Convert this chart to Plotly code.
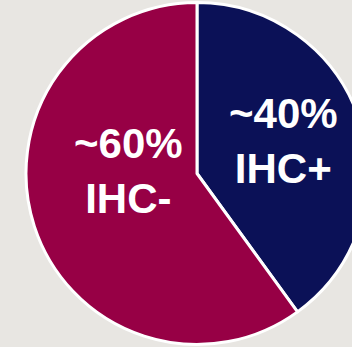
import plotly.graph_objects as go

# Share of cases by IHC status
labels = ["IHC+", "IHC-"]
shares = [40, 60]
share_text = ["~40%", "~60%"]
colors = ["#0b1157", "#970045"]

W, H = 372, 347

fig = go.Figure(
    go.Pie(
        labels=labels,
        values=shares,
        sort=False,
        direction="clockwise",
        rotation=0,
        marker=dict(colors=colors, line=dict(color="white", width=3)),
        textinfo="none",
        hoverinfo="label+percent",
        showlegend=False,
        domain=dict(x=[26 / W, 368 / W], y=[0, 1]),
    )
)

# Slice labels placed over each slice
label_pos = {"IHC+": (283, 141), "IHC-": (128, 171)}
for lab, txt in zip(labels, share_text):
    px, py = label_pos[lab]
    fig.add_annotation(
        x=px / W, y=1 - py / H, xref="paper", yref="paper",
        text=f"<b>{txt}</b><br><b>{lab}</b>", showarrow=False,
        font=dict(family="Liberation Sans, Arial, sans-serif", size=42, color="white"),
        align="center", xanchor="center", yanchor="middle",
    )

fig.update_layout(
    width=W, height=H, autosize=False,
    margin=dict(l=0, r=0, t=0, b=0),
    paper_bgcolor="#e8e6e2", plot_bgcolor="#e8e6e2",
)

fig.write_html(
    "out.html",
    config=dict(displayModeBar=False, responsive=False),
    post_script="document.body.style.margin='0';document.body.style.overflow='hidden';document.documentElement.style.overflow='hidden';",
)
